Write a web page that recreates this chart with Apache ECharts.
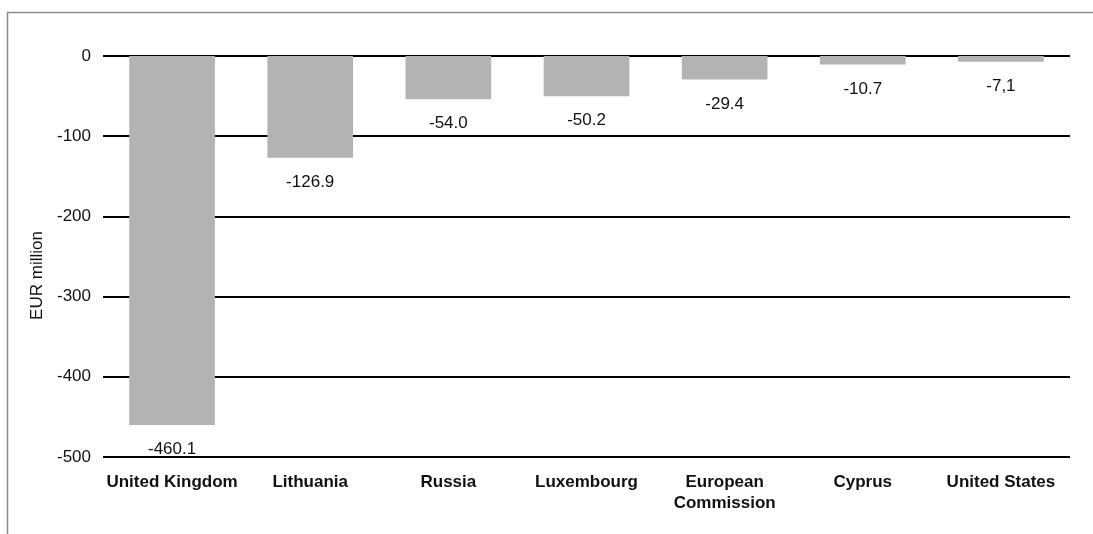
<!DOCTYPE html>
<html>
<head>
<meta charset="utf-8">
<script src="https://cdn.jsdelivr.net/npm/echarts@6/dist/echarts.min.js"></script>
<style>
  html, body { margin: 0; padding: 0; background: #fff; }
  #chart { width: 1093px; height: 534px; }
</style>
</head>
<body>
<div id="chart"></div>
<script>
// data
const countries = ['United Kingdom', 'Lithuania', 'Russia', 'Luxembourg', 'European\nCommission', 'Cyprus', 'United States'];
const flows = [-460.1, -126.9, -54.0, -50.2, -29.4, -10.7, -7.1];
const flowLabels = ['-460.1', '-126.9', '-54.0', '-50.2', '-29.4', '-10.7', '-7,1'];
const yTicks = [-500, -400, -300, -200, -100, 0];

const font = '"Liberation Sans", Arial, Helvetica, sans-serif';
const chart = echarts.init(document.getElementById('chart'));

chart.setOption({
  animation: false,
  textStyle: { fontFamily: font },
  grid: { left: 103, right: 23, top: 56, bottom: 77 },
  graphic: [
    {
      type: 'rect',
      shape: { x: 7.5, y: 12.5, width: 1200, height: 600 },
      style: { fill: null, stroke: '#8c8c8c', lineWidth: 1.5 },
      silent: true
    }
  ],
  xAxis: {
    type: 'category',
    data: countries,
    axisLine: { show: false },
    axisTick: { show: false },
    axisLabel: {
      interval: 0,
      margin: 15,
      fontSize: 17,
      fontWeight: 'bold',
      color: '#111',
      lineHeight: 21,
      fontFamily: font
    }
  },
  yAxis: {
    type: 'value',
    min: yTicks[0],
    max: yTicks[yTicks.length - 1],
    interval: 100,
    name: 'EUR million',
    nameLocation: 'middle',
    nameGap: 55,
    nameTextStyle: { fontSize: 17, color: '#111', fontFamily: font, padding: [0, 38, 0, 0] },
    axisLine: { show: false },
    axisTick: { show: false },
    axisLabel: { fontSize: 17, color: '#111', margin: 12, fontFamily: font },
    splitLine: { lineStyle: { color: '#000', width: 2 } }
  },
  series: [
    {
      type: 'bar',
      data: flows,
      barWidth: '62%',
      itemStyle: { color: '#b3b3b3' },
      label: {
        show: true,
        position: 'bottom',
        distance: 16,
        fontSize: 17,
        color: '#111',
        fontFamily: font,
        formatter: p => flowLabels[p.dataIndex]
      }
    }
  ]
});
</script>
</body>
</html>
